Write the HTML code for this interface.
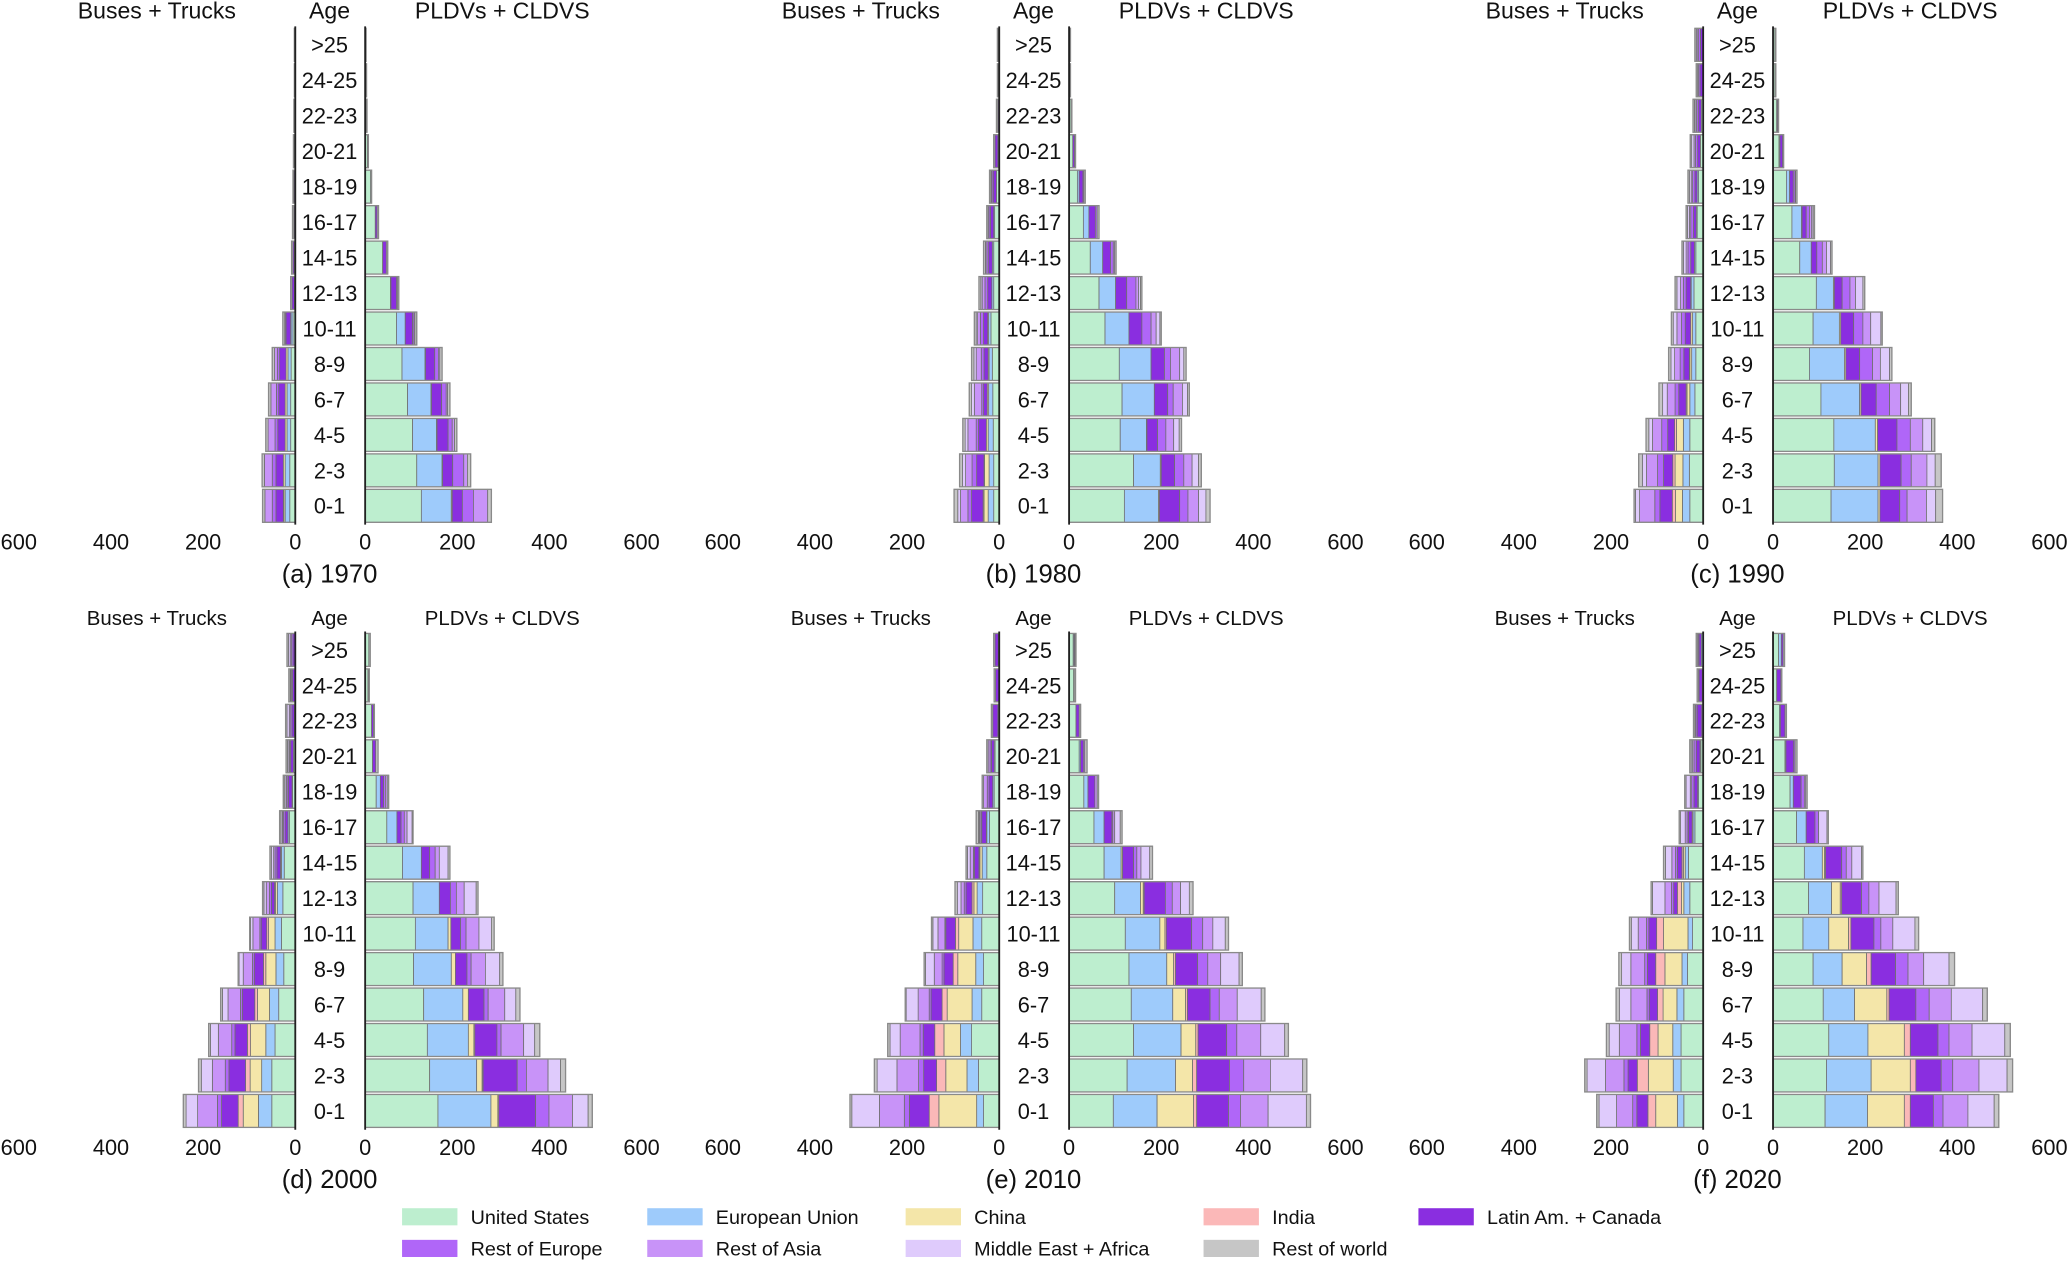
<!DOCTYPE html>
<html><head><meta charset="utf-8"><style>
html,body{margin:0;padding:0;background:#fff;}
svg{display:block;font-family:"Liberation Sans",sans-serif;}
</style></head><body>
<svg id="chart" width="2067" height="1262" viewBox="0 0 1568 957.3" preserveAspectRatio="none" xmlns="http://www.w3.org/2000/svg"></svg>
<script>
const ageLabels = [">25","24-25","22-23","20-21","18-19","16-17","14-15","12-13","10-11","8-9","6-7","4-5","2-3","0-1"];
const seriesNames = ["United States","European Union","China","India","Latin Am. + Canada","Rest of Europe","Rest of Asia","Middle East + Africa","Rest of world"];
const seriesColors = ["#bdeecf","#9ecbfb","#f4e6a9","#fbb8b8","#8a2ee0","#b066f8","#c893f8","#dfcbfc","#c6c6c6"];
const panelTitles = ["(a) 1970","(b) 1980","(c) 1990","(d) 2000","(e) 2010","(f) 2020"];
const tickValues = [0,200,400,600];

// PLDVs + CLDVs (right side), series order as seriesNames, rows >25 .. 0-1
const pldv1970 = [
 [1,2,3,5,12,22,38,55,68,80,92,103,112,122],
 [0,0,0,0,0,0,0,1,19,50,51,52,55,65],
 [0,0,0,0,0,0,0,0,0,1,1,1,1,2],
 [0,0,0,0,0,0,0,0,0,0,0,0,0,0],
 [0,0,0,0,0,4,8,12,16,20,22,24,22,22],
 [0,0,0,0,0,0,0,2,3,8,10,9,24,24],
 [0,0,0,0,0,0,0,0,2,3,3,5,8,31],
 [0,0,0,0,0,0,0,0,0,0,0,0,0,0],
 [1,1,1,2,2,3,3,3,4,5,5,5,7,8]];
const bus1970 = [
 [0,0,0,0,0,1,2,2,5,9,10,10,12,12],
 [0,0,0,0,0,0,0,0,4,7,8,8,10,10],
 [0,0,0,0,0,0,0,0,1,4,4,4,4,3],
 [0,0,0,0,0,0,0,0,0,0,0,0,0,1],
 [1,1,1,2,3,2,3,5,10,14,14,16,16,16],
 [0,0,0,0,0,0,0,0,2,5,5,6,8,8],
 [0,0,0,0,0,0,0,0,1,6,12,15,17,16],
 [0,0,0,0,0,0,0,0,0,0,0,0,0,0],
 [1,1,2,2,2,3,3,3,4,5,5,5,5,5]];
const pldv1980 = [
 [2,2,4,8,18,31,46,65,78,109,115,111,140,120],
 [0,0,0,0,4,12,27,36,52,69,70,57,58,74],
 [0,0,0,0,0,0,0,0,0,0,0,1,2,2],
 [0,0,0,0,0,0,0,0,0,0,0,0,0,0],
 [0,0,0,4,8,14,17,24,28,29,29,23,29,44],
 [0,0,0,0,2,4,6,20,20,13,12,18,20,18],
 [0,0,0,0,0,0,3,6,11,20,20,17,18,23],
 [0,0,0,0,0,0,0,4,8,9,11,12,14,16],
 [1,1,2,2,3,4,3,3,3,5,4,5,6,9]];
const bus1980 = [
 [0,0,0,3,6,10,12,12,18,15,14,13,12,12],
 [0,0,0,0,0,2,3,4,5,7,9,11,10,12],
 [0,0,0,0,0,0,0,0,2,2,3,4,10,9],
 [0,0,0,0,0,0,0,0,0,0,0,0,1,2],
 [2,2,3,6,7,7,8,9,9,9,8,17,16,25],
 [0,0,0,0,3,3,4,6,7,6,4,5,10,8],
 [0,0,0,0,2,2,3,6,6,11,16,18,14,16],
 [0,0,0,0,0,0,0,3,3,5,6,6,7,6],
 [2,2,3,3,3,3,4,4,4,5,5,5,6,8]];
const pldv1990 = [
 [4,4,8,13,29,41,58,94,87,79,104,132,133,126],
 [0,0,0,2,7,21,25,37,57,76,84,90,95,102],
 [0,0,0,0,0,1,0,2,3,3,3,5,4,4],
 [0,0,0,0,0,0,0,0,0,0,0,0,0,0],
 [0,0,2,6,8,9,12,17,28,30,33,42,46,43],
 [0,0,0,0,4,7,12,17,20,28,29,29,22,16],
 [0,0,0,0,1,5,9,12,17,17,24,27,34,42],
 [0,0,0,0,0,3,9,16,22,20,17,19,18,20],
 [2,2,2,2,3,3,3,4,3,5,6,7,13,15]];
const bus1990 = [
 [0,0,4,6,10,13,16,20,16,16,18,29,30,29],
 [0,0,0,0,3,2,3,6,7,9,11,14,14,16],
 [0,0,0,0,0,0,0,1,4,4,6,15,17,15],
 [0,0,0,0,0,0,0,0,0,1,2,4,5,7],
 [6,7,6,6,5,6,8,10,12,12,16,15,20,27],
 [4,3,4,5,5,6,6,6,8,8,8,13,13,11],
 [3,2,2,3,3,3,4,6,10,12,17,20,24,33],
 [2,0,3,5,4,4,6,8,8,8,10,8,9,9],
 [3,3,3,3,3,3,3,4,4,5,8,6,8,3]];
const pldv2000 = [
 [8,6,14,16,24,47,81,104,109,105,127,135,140,158],
 [0,0,0,0,9,22,41,57,71,82,85,89,102,115],
 [0,0,0,0,0,0,0,0,6,9,12,12,12,15],
 [0,0,0,0,0,0,0,0,0,0,0,2,2,2],
 [0,1,4,7,7,9,18,24,21,25,34,48,74,80],
 [0,0,0,0,4,7,12,13,12,9,9,9,20,29],
 [0,0,0,0,4,6,9,17,28,31,36,49,47,51],
 [0,0,0,0,0,11,19,26,27,31,24,24,27,34],
 [3,2,2,5,3,2,4,4,6,7,9,11,11,9]];
const bus2000 = [
 [0,0,2,4,6,13,24,27,30,25,36,44,51,51],
 [0,0,0,0,1,3,6,12,14,17,20,20,22,29],
 [0,0,0,0,0,0,2,4,14,22,26,33,25,33],
 [0,0,0,0,0,0,0,2,4,5,6,7,10,11],
 [5,6,5,6,8,6,8,7,12,20,27,27,36,36],
 [3,2,3,2,3,4,4,4,3,4,4,7,8,9],
 [3,2,3,2,2,2,3,7,15,20,27,29,28,43],
 [4,1,5,3,3,3,5,5,5,9,12,17,24,25],
 [3,3,3,3,3,3,3,3,2,2,4,4,6,6]];
const pldv2010 = [
 [9,10,15,22,32,54,76,99,122,130,135,140,126,96],
 [2,0,0,3,9,22,37,56,75,82,90,103,105,95],
 [0,0,0,0,0,0,3,6,11,15,28,32,37,79],
 [0,0,0,0,0,0,0,2,3,4,4,5,9,7],
 [2,1,7,6,15,17,24,46,55,48,49,62,71,69],
 [0,0,0,3,0,2,7,15,24,22,20,22,31,26],
 [0,0,0,0,5,4,9,18,22,28,39,52,58,60],
 [0,0,0,0,0,12,19,19,27,40,52,52,70,83],
 [2,3,3,5,3,4,6,8,7,7,8,8,9,9]];
const bus2010 = [
 [0,0,3,9,11,21,27,36,38,34,38,60,45,34],
 [2,0,0,2,3,6,10,12,19,17,21,24,25,15],
 [0,0,0,0,0,1,5,7,31,39,54,36,46,82],
 [0,0,0,0,0,0,2,4,7,10,11,20,20,21],
 [7,8,11,6,8,10,10,13,21,20,24,25,28,43],
 [0,0,0,3,4,2,2,4,2,4,4,7,11,11],
 [0,0,0,4,8,3,7,7,15,17,24,43,47,54],
 [0,0,0,0,0,2,6,8,11,19,26,22,43,60],
 [3,3,3,3,3,5,3,5,3,3,2,5,6,4]];
const pldv2020 = [
 [12,8,14,26,37,51,68,77,65,87,109,121,116,113],
 [6,0,2,2,7,21,39,50,56,63,68,85,97,92],
 [0,0,0,0,0,0,5,19,43,53,70,79,85,80],
 [0,0,0,0,0,0,2,3,5,10,5,13,12,13],
 [4,9,10,17,17,19,35,43,50,53,58,60,55,50],
 [0,0,0,3,7,8,10,16,15,27,29,24,25,21],
 [0,0,0,0,3,0,12,22,26,34,48,50,57,54],
 [0,0,0,0,0,18,21,37,48,55,68,71,61,57],
 [3,2,3,4,3,3,3,5,8,12,10,12,12,10]];
const bus2020 = [
 [0,2,3,5,10,18,32,29,23,34,42,48,48,42],
 [4,0,0,2,2,4,7,13,10,12,15,18,17,14],
 [0,0,0,0,0,0,4,5,53,37,30,32,54,47],
 [0,0,0,0,0,2,3,9,15,20,12,18,24,17],
 [5,7,10,8,8,8,10,8,17,18,18,20,20,24],
 [2,1,3,5,5,3,4,5,5,6,5,8,9,9],
 [1,0,2,3,3,4,8,14,18,30,35,38,40,35],
 [0,0,0,3,9,10,14,27,15,20,25,22,40,38],
 [3,3,3,3,3,3,4,3,4,6,7,6,5,5]];

const rightData = [pldv1970,pldv1980,pldv1990,pldv2000,pldv2010,pldv2020];
const leftData = [bus1970,bus1980,bus1990,bus2000,bus2010,bus2020];

const svg = document.getElementById('chart');
const NS = "http://www.w3.org/2000/svg";
function mk(tag, attrs, parent){
  const e = document.createElementNS(NS, tag);
  for (const k in attrs) e.setAttribute(k, attrs[k]);
  (parent||svg).appendChild(e);
  return e;
}
const SCALE = 0.3495; // px per unit
const STEP = 26.9;
const BAR_H = 25;

for (let p = 0; p < 6; p++) {
  const ox = (p % 3) * 534;
  const oy = p < 3 ? 0 : 459;
  const g = mk('g', {});
  
  
  const lz = ox + 224, rz = ox + 277, ac = ox + 250;
  const xR = v => rz + v * SCALE;
  const xL = v => lz - v * SCALE;
  const yRow = i => oy + 34 + i * STEP;
  const hs = p < 3 ? 17.5 : 15.5;
  const hy = p < 3 ? 14 : 474;
  let t;
  t = mk('text', {x: ox + 119, y: hy, 'font-size': hs, 'text-anchor': 'middle', fill: '#111'}, g);
  t.textContent = 'Buses + Trucks';
   
  t = mk('text', {x: ac, y: hy, 'font-size': hs, 'text-anchor': 'middle', fill: '#111'}, g);
  t.textContent = 'Age';
   
  t = mk('text', {x: ox + 381, y: hy, 'font-size': hs, 'text-anchor': 'middle', fill: '#111'}, g);
  t.textContent = 'PLDVs + CLDVS';
   

  // bars
  for (let i = 0; i < ageLabels.length; i++) {
    const y = yRow(i) - BAR_H / 2;
    let accR = 0, accL = 0;
    for (let s = 0; s < seriesNames.length; s++) {
      const vr = rightData[p][s][i];
      if (vr > 0) {
        const r = mk('rect', {x: xR(accR), y: y, width: vr * SCALE, height: BAR_H, fill: seriesColors[s], stroke: '#6f6f6f', 'stroke-width': 0.6}, g);
        
        
      }
      accR += vr;
      const vl = leftData[p][s][i];
      if (vl > 0) {
        const r = mk('rect', {x: xL(accL + vl), y: y, width: vl * SCALE, height: BAR_H, fill: seriesColors[s], stroke: '#6f6f6f', 'stroke-width': 0.6}, g);
        
        
      }
      accL += vl;
    }
    if (accR > 0) { const o = mk('rect', {x: rz, y: y, width: accR * SCALE, height: BAR_H, fill: 'none', stroke: '#8a8a8a', 'stroke-width': 1}, g);
        }
    if (accL > 0) { const o = mk('rect', {x: xL(accL), y: y, width: accL * SCALE, height: BAR_H, fill: 'none', stroke: '#8a8a8a', 'stroke-width': 1}, g);
        }
    t = mk('text', {x: ac, y: yRow(i) + 6, 'font-size': 16.5, 'text-anchor': 'middle', fill: '#111'}, g);
    t.textContent = ageLabels[i];
     
  }
  // axis lines
  const a1 = mk('line', {x1: lz, x2: lz, y1: oy + 20, y2: oy + 398, stroke: '#222', 'stroke-width': 1.4}, g);
   
  const a2 = mk('line', {x1: rz, x2: rz, y1: oy + 20, y2: oy + 398, stroke: '#222', 'stroke-width': 1.4}, g);
   
  // ticks
  tickValues.forEach(v => {
    let tt = mk('text', {x: xL(v), y: oy + 417, 'font-size': 16.5, 'text-anchor': 'middle', fill: '#111'}, g);
    tt.textContent = v;
     
    tt = mk('text', {x: xR(v), y: oy + 417, 'font-size': 16.5, 'text-anchor': 'middle', fill: '#111'}, g);
    tt.textContent = v;
     
  });
  t = mk('text', {x: ac, y: oy + 442, 'font-size': 19.5, 'text-anchor': 'middle', fill: '#111'}, g);
  t.textContent = panelTitles[p];
   
}

// legend
const legX = [305,491,687,913,1076,305,491,687,913];
const legY = [923,923,923,923,923,947,947,947,947];
const lg = mk('g', {});


for (let s = 0; s < seriesNames.length; s++) {
  const e = mk('g', {}, lg);
  
  
  mk('rect', {x: legX[s], y: legY[s] - 6.5, width: 42, height: 13, fill: seriesColors[s]}, e);
  const t = mk('text', {x: legX[s] + 52, y: legY[s] + 5.5, 'font-size': 15, fill: '#111'}, e);
  t.textContent = seriesNames[s];
}
</script>
</body></html>
